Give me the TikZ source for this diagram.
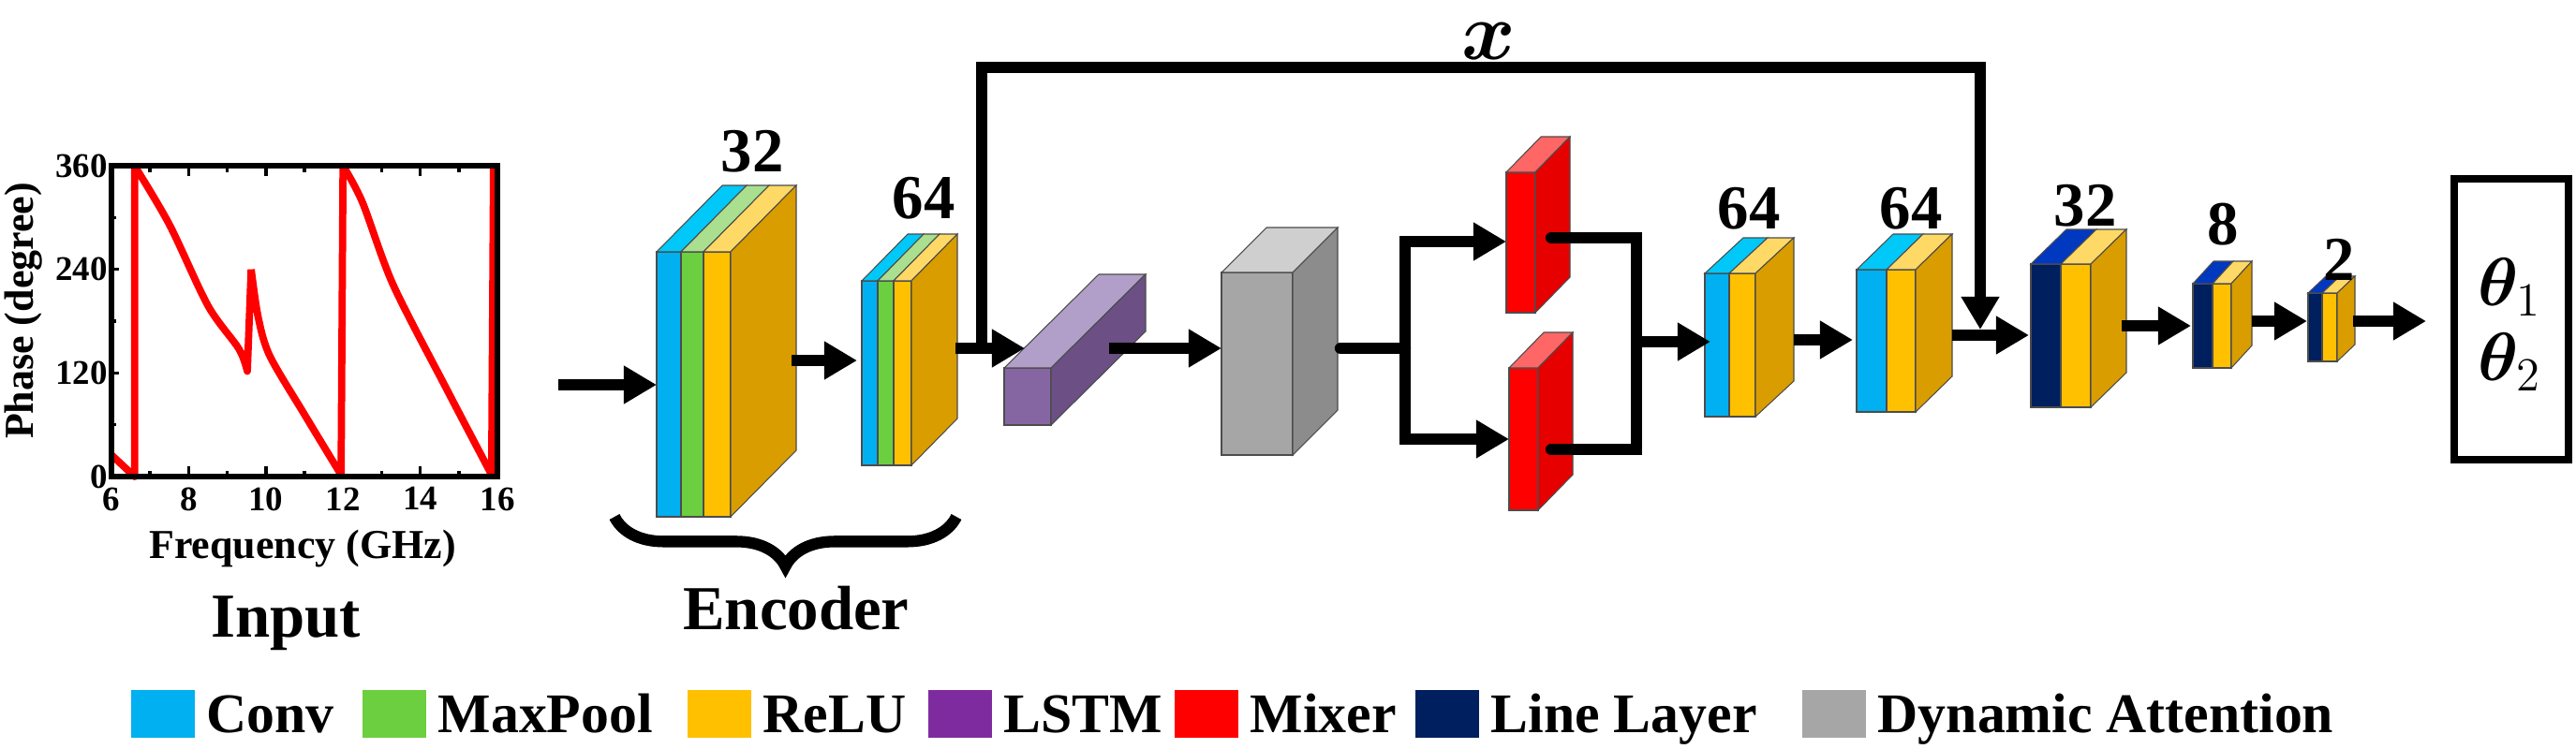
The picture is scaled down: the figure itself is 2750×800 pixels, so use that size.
\documentclass[tikz,border=0pt]{standalone}
\usepackage{bm}
\usepackage{fontspec}
\setmainfont{Liberation Serif}
\usetikzlibrary{arrows.meta,decorations.pathreplacing}

\definecolor{conv}{HTML}{00B0F0}
\definecolor{convtop}{HTML}{00C8F8}
\definecolor{pool}{HTML}{6CCF3F}
\definecolor{pooltop}{HTML}{A9DF8F}
\definecolor{relu}{HTML}{FFC000}
\definecolor{relutop}{HTML}{FFD966}
\definecolor{reluside}{HTML}{D99D00}
\definecolor{line}{HTML}{001F5F}
\definecolor{linetop}{HTML}{0038C0}
\definecolor{lstm}{HTML}{8566A3}
\definecolor{lstmtop}{HTML}{B19FC9}
\definecolor{lstmside}{HTML}{6B4F85}
\definecolor{lstmkey}{HTML}{7F2BA0}
\definecolor{att}{HTML}{A6A6A6}
\definecolor{atttop}{HTML}{CFCFCF}
\definecolor{attside}{HTML}{8C8C8C}
\definecolor{mix}{HTML}{FF0000}
\definecolor{mixtop}{HTML}{FF6666}
\definecolor{mixside}{HTML}{E60000}

% front stripe and top face of one layer: x1 x2 ytop ybot dx dy front top
\newcommand\layer[8]{%
  \filldraw[face,fill=#7] (#1,#3) rectangle (#2,#4);
  \filldraw[face,fill=#8] (#1,#3) -- (#2,#3) -- ({#2+#5},{#3-#6}) -- ({#1+#5},{#3-#6}) -- cycle;}
% side face: x ytop ybot dx dy colour
\newcommand\sideface[6]{%
  \filldraw[face,fill=#6] (#1,#2) -- ({#1+#4},{#2-#5}) -- ({#1+#4},{#3-#5}) -- (#1,#3) -- cycle;}

\begin{document}
\begin{tikzpicture}[x=0.01cm,y=-0.01cm,
    face/.style={draw=black!70,line width=0.3pt},
    arr/.style={line width=3.5pt,-{Triangle[length=10pt,width=11pt]}},
    wire/.style={line width=3.5pt,line cap=round},
    num/.style={font=\bfseries\fontsize{19}{20}\selectfont},
    key/.style={anchor=base west,inner sep=0pt,font=\bfseries\fontsize{17}{20}\selectfont},
    tick/.style={font=\bfseries\fontsize{10.5}{12}\selectfont}]
\useasboundingbox (0,0) rectangle (2750,800);

% input plot
\begin{scope}[shift={(-128.2,509)},xscale=41.2,yscale=-0.922]
  \foreach \f in {6,7,...,16} {
    \draw[line width=1pt] (\f,0) -- (\f,{ifthenelse(mod(\f,2)==0,12,7)});
    \draw[line width=1pt] (\f,360) -- (\f,{360-ifthenelse(mod(\f,2)==0,12,7)});}
  \foreach \p in {0,60,...,360} {
    \draw[line width=1pt] (6,\p) -- ({6+ifthenelse(mod(\p,120)==0,0.2,0.12)},\p);
    \draw[line width=1pt] (16,\p) -- ({16-ifthenelse(mod(\p,120)==0,0.2,0.12)},\p);}
  \foreach \f in {6,8,...,16} \node[tick,anchor=north,inner sep=1pt] at (\f,-8) {\f};
  \foreach \p in {0,120,240,360} \node[tick,anchor=east,inner sep=1pt] at (6,\p) {\p};
  \draw[red,line width=2.2pt,line join=round]
    (6,25) -- (6.6,0) -- (6.6,360)
    plot[smooth,tension=0.5] coordinates {(6.6,360) (7.5,292) (8.5,198) (9.3,148) (9.52,122)}
    -- (9.62,240) plot[smooth,tension=0.5] coordinates {(9.62,240) (9.8,185) (10.1,140) (11,72) (11.95,2)}
    -- (12,360) plot[smooth,tension=0.5] coordinates {(12,360) (12.5,318) (13.3,222) (14.7,100) (15.85,2)}
    -- (15.9,360);
  \draw[line width=1.6pt] (6,0) rectangle (16,360);
\end{scope}
\node[font=\bfseries\fontsize{12.5}{14}\selectfont,inner sep=1pt] (freq) at (323,586) {Frequency (GHz)};
\node[font=\bfseries\fontsize{12.5}{14}\selectfont,rotate=90,inner sep=1pt] (phase) at (25,332) {Phase (degree)};
\node[font=\bfseries\fontsize{19}{20}\selectfont] (inp) at (305,666) {Input};

% encoder
\layer{701}{727}{269}{552}{70}{71}{conv}{convtop}
\layer{727}{751}{269}{552}{70}{71}{pool}{pooltop}
\layer{751}{780}{269}{552}{70}{71}{relu}{relutop}
\sideface{780}{269}{552}{70}{71}{reluside}
\node[num] (n1) at (803,162) {32};
\layer{920}{937}{300}{497}{49}{50}{conv}{convtop}
\layer{937}{954}{300}{497}{49}{50}{pool}{pooltop}
\layer{954}{973}{300}{497}{49}{50}{relu}{relutop}
\sideface{973}{300}{497}{49}{50}{reluside}
\node[num] (n2) at (986,212) {64};
\draw[decorate,decoration={brace,amplitude=15pt,mirror},line width=3.5pt] (656,552) -- (1021,552);
\node[font=\bfseries\fontsize{19}{20}\selectfont] (enc) at (850,650) {Encoder};

% lstm, attention, mixers
\layer{1072}{1122}{393}{454}{101}{100}{lstm}{lstmtop}
\sideface{1122}{393}{454}{101}{100}{lstmside}
\layer{1304}{1380}{291}{486}{48}{48}{att}{atttop}
\sideface{1380}{291}{486}{48}{48}{attside}
\layer{1608}{1639}{184}{334}{37}{38}{mix}{mixtop}
\sideface{1639}{184}{334}{37}{38}{mixside}
\layer{1611}{1642}{393}{545}{37}{38}{mix}{mixtop}
\sideface{1642}{393}{545}{37}{38}{mixside}

% decoder
\layer{1820}{1846}{292}{445}{41}{38}{conv}{convtop}
\layer{1846}{1874}{292}{445}{41}{38}{relu}{relutop}
\sideface{1874}{292}{445}{41}{38}{reluside}
\node[num] (n3) at (1867,223) {64};
\layer{1982}{2014}{288}{440}{39}{38}{conv}{convtop}
\layer{2014}{2045}{288}{440}{39}{38}{relu}{relutop}
\sideface{2045}{288}{440}{39}{38}{reluside}
\node[num] (n4) at (2040,223) {64};
\layer{2168}{2200}{282}{435}{38}{37}{line}{linetop}
\layer{2200}{2232}{282}{435}{38}{37}{relu}{relutop}
\sideface{2232}{282}{435}{38}{37}{reluside}
\node[num] (n5) at (2226,220) {32};
\layer{2341}{2362}{303}{393}{22}{24}{line}{linetop}
\layer{2362}{2382}{303}{393}{22}{24}{relu}{relutop}
\sideface{2382}{303}{393}{22}{24}{reluside}
\node[num] (n6) at (2373,240) {8};
\layer{2464}{2479}{313}{386}{19}{18}{line}{linetop}
\layer{2479}{2495}{313}{386}{19}{18}{relu}{relutop}
\sideface{2495}{313}{386}{19}{18}{reluside}
\node[num] (n7) at (2497,277) {2};

\node[draw,line width=2.4pt,minimum width=1.22cm,minimum height=3cm,inner sep=0pt] (out) at (2681,341) {};
\node[font=\fontsize{21}{22}\selectfont] (t1) at (2679,307) {$\bm{\theta}_1$};
\node[font=\fontsize{21}{22}\selectfont] (t2) at (2679,387) {$\bm{\theta}_2$};
\node[font=\fontsize{24}{26}\selectfont,inner sep=0pt] (xl) at (1589,44) {$\bm{x}$};

% connection points
\coordinate (inS) at (596,411);   \coordinate (enc1w) at (701,411);
\coordinate (enc1e) at (845,385); \coordinate (enc2w) at (915,385);
\coordinate (enc2e) at (1020,372); \coordinate (lstmw) at (1094,372);
\coordinate (skipa) at (1048,372); \coordinate (skipb) at (1048,72);
\coordinate (skipc) at (2114,72);  \coordinate (skipd) at (2114,352);
\coordinate (lstme) at (1184,372); \coordinate (attw) at (1304,372);
\coordinate (atte) at (1431,372);  \coordinate (brc) at (1500,372);
\coordinate (mixAw) at (1608,258); \coordinate (mixBw) at (1611,469);
\coordinate (mixAe) at (1656,254); \coordinate (mixBe) at (1656,480);
\coordinate (mrg) at (1747,365);   \coordinate (d1w) at (1826,365);
\coordinate (d1e) at (1915,363);   \coordinate (d2w) at (1978,363);
\coordinate (d2e) at (2084,358);   \coordinate (d3w) at (2166,358);
\coordinate (d3e) at (2265,348);   \coordinate (d4w) at (2339,348);
\coordinate (d4e) at (2404,343);   \coordinate (d5w) at (2463,343);
\coordinate (d5e) at (2512,343);   \coordinate (outw) at (2590,343);

\draw[arr] (inS) -- (enc1w);
\draw[arr] (enc1e) -- (enc2w);
\draw[arr] (enc2e) -- (lstmw);
\draw[wire,-{Triangle[length=10pt,width=11pt]},line cap=butt] (skipa) -- (skipb) -- (skipc) -- (skipd);
\draw[arr] (lstme) -- (attw);
\draw[wire] (atte) -- (brc);
\draw[arr] (brc) |- (mixAw);
\draw[arr] (brc) |- (mixBw);
\draw[wire] (mixAe) -| (mrg);
\draw[wire] (mixBe) -| (mrg);
\draw[arr] (mrg) -- (d1w);
\draw[arr] (d1e) -- (d2w);
\draw[arr] (d2e) -- (d3w);
\draw[arr] (d3e) -- (d4w);
\draw[arr] (d4e) -- (d5w);
\draw[arr] (d5e) -- (outw);

% legend
\foreach \xa/\col/\txt in {140/conv/Conv,387/pool/MaxPool,734/relu/ReLU,991/lstmkey/LSTM,
    1254/mix/Mixer,1511/line/Line Layer,1924/att/Dynamic Attention} {
  \fill[\col] (\xa,737) rectangle ({\xa+68},788);
  \node[key] at ({\xa+80},782) {\txt};}
\end{tikzpicture}
\end{document}
